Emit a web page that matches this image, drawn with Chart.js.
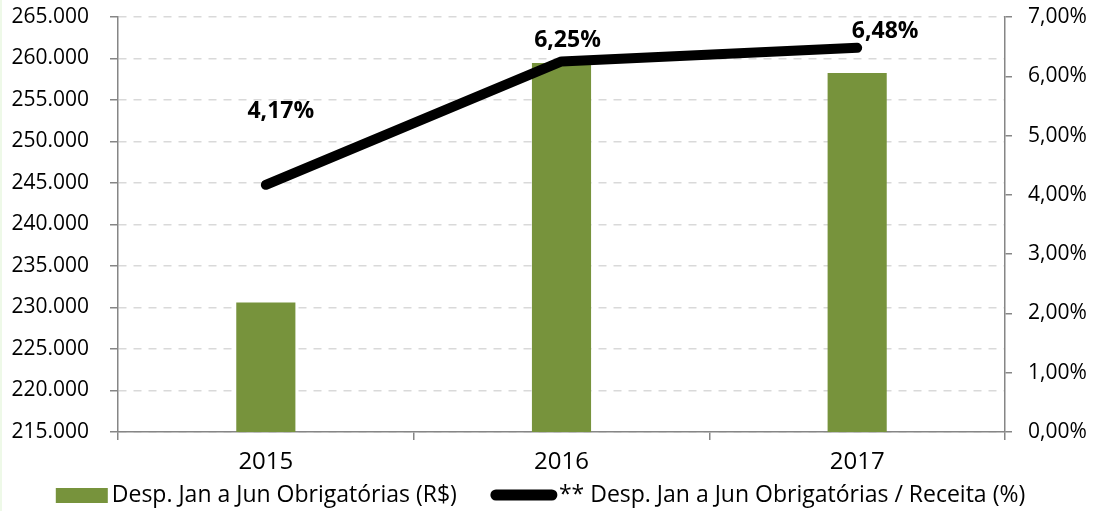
<!DOCTYPE html>
<html>
<head>
<meta charset="utf-8">
<script src="https://cdn.jsdelivr.net/npm/chart.js@4/dist/chart.umd.min.js"></script>
<style>
  html, body { margin: 0; padding: 0; background: #ffffff; }
  #wrap { width: 1097px; height: 511px; position: relative; }
</style>
</head>
<body>
<div id="wrap"><canvas id="chart" width="1097" height="511"></canvas></div>
<script>
// chart data
const years = ['2015', '2016', '2017'];
const despesas = [230600, 259450, 258250];
const percentual = [4.17, 6.25, 6.48];
const leftTicks = [215000, 265000, 5000];   // min, max, step
const rightTicks = [0, 7, 1];                // min, max, step (%)
const seriesNames = ['Desp. Jan a Jun Obrigatórias (R$)', '** Desp. Jan a Jun Obrigatórias / Receita (%)'];

// label placement relative to each point (hand placed in the original)
const labelOffsets = [[15, -73], [6, -21], [28, -16]];

const FONT = '"Open Sans", Lato, sans-serif';
const GREEN = '#77933C';
const AXIS = '#868686';

function fmtThousands(v) {
    return String(Math.round(v)).replace(/\B(?=(\d{3})+(?!\d))/g, '.');
}
function fmtPct(v) {
    return v.toFixed(2).replace('.', ',') + '%';
}

// fixed axis width, and no extra vertical padding from tick labels
function fixWidth(w) {
    return function(scale) {
        scale.width = w;
        scale.paddingTop = 0;
        scale.paddingBottom = 0;
    };
}

// white background + faint edge
const bgPlugin = {
    id: 'bg',
    beforeDraw(chart) {
        const ctx = chart.ctx;
        ctx.save();
        ctx.fillStyle = '#ffffff';
        ctx.fillRect(0, 0, chart.width, chart.height);
        ctx.fillStyle = '#eef9e8';
        ctx.fillRect(0, 0, 2, chart.height);
        ctx.restore();
    }
};

// bold value labels over the line
const valueLabels = {
    id: 'valueLabels',
    afterDatasetsDraw(chart) {
        const meta = chart.getDatasetMeta(0);
        const ctx = chart.ctx;
        ctx.save();
        ctx.font = 'bold 23px ' + FONT;
        ctx.fillStyle = '#000';
        ctx.textAlign = 'center';
        ctx.textBaseline = 'middle';
        meta.data.forEach((pt, i) => {
            const off = labelOffsets[i];
            ctx.fillText(fmtPct(percentual[i]), pt.x + off[0], pt.y + off[1]);
        });
        ctx.restore();
    }
};

// legend drawn by hand to get the wide line swatch
const customLegend = {
    id: 'customLegend',
    afterDraw(chart) {
        const ctx = chart.ctx;
        ctx.save();
        ctx.font = '23px ' + FONT;
        ctx.textBaseline = 'middle';
        const y = 495;
        const w1 = ctx.measureText(seriesNames[0]).width;
        const w2 = ctx.measureText(seriesNames[1]).width;
        const total = 52 + 4 + w1 + 34 + 66 + 2 + w2;
        let x = chart.width / 2 - 8 - total / 2;

        ctx.fillStyle = GREEN;
        ctx.fillRect(x, y - 7, 52, 15);
        x += 56;
        ctx.fillStyle = '#000';
        ctx.fillText(seriesNames[0], x, y);
        x += w1 + 34;

        ctx.strokeStyle = '#000';
        ctx.lineWidth = 11;
        ctx.lineCap = 'round';
        ctx.beginPath();
        ctx.moveTo(x + 5, y);
        ctx.lineTo(x + 61, y);
        ctx.stroke();
        x += 68;
        ctx.fillText(seriesNames[1], x, y);
        ctx.restore();
    }
};

const ctx = document.getElementById('chart').getContext('2d');
new Chart(ctx, {
    data: {
        labels: years,
        datasets: [
            {
                type: 'line',
                label: seriesNames[1],
                data: percentual,
                yAxisID: 'yRight',
                borderColor: '#000',
                borderWidth: 10,
                borderCapStyle: 'round',
                borderJoinStyle: 'round',
                pointRadius: 0,
                tension: 0,
                order: 0
            },
            {
                type: 'bar',
                label: seriesNames[0],
                data: despesas,
                yAxisID: 'y',
                backgroundColor: GREEN,
                barPercentage: 0.2,
                categoryPercentage: 1,
                order: 1
            }
        ]
    },
    options: {
        responsive: false,
        animation: false,
        layout: { padding: { top: 17, bottom: 29, left: 0, right: 0 } },
        plugins: {
            legend: { display: false },
            tooltip: { enabled: false }
        },
        scales: {
            x: {
                offset: true,
                grid: {
                    offset: true,
                    drawOnChartArea: false,
                    drawTicks: true,
                    tickLength: 8,
                    color: AXIS,
                    lineWidth: 1.5
                },
                border: { color: AXIS, width: 1.5 },
                ticks: { color: '#000', font: { family: FONT, size: 24 }, padding: 8 },
                afterFit(scale) { scale.height = 50; }
            },
            y: {
                position: 'left',
                min: leftTicks[0],
                max: leftTicks[1],
                grid: {
                    color: '#d9d9d9',
                    lineWidth: 1.5,
                    tickLength: 8,
                    tickColor: AXIS
                },
                border: { color: AXIS, width: 1.5, dash: [8, 7] },
                ticks: {
                    stepSize: leftTicks[2],
                    color: '#000',
                    font: { family: FONT, size: 21 },
                    padding: 21,
                    callback: v => fmtThousands(v)
                },
                afterFit: fixWidth(118)
            },
            yRight: {
                position: 'right',
                min: rightTicks[0],
                max: rightTicks[1],
                grid: {
                    drawOnChartArea: false,
                    tickLength: 7,
                    color: AXIS,
                    lineWidth: 1.5
                },
                border: { color: AXIS, width: 1.5 },
                ticks: {
                    stepSize: rightTicks[2],
                    color: '#000',
                    font: { family: FONT, size: 21 },
                    padding: 16,
                    callback: v => fmtPct(v)
                },
                afterFit: fixWidth(92)
            }
        }
    },
    plugins: [bgPlugin, valueLabels, customLegend]
});
</script>
</body>
</html>
